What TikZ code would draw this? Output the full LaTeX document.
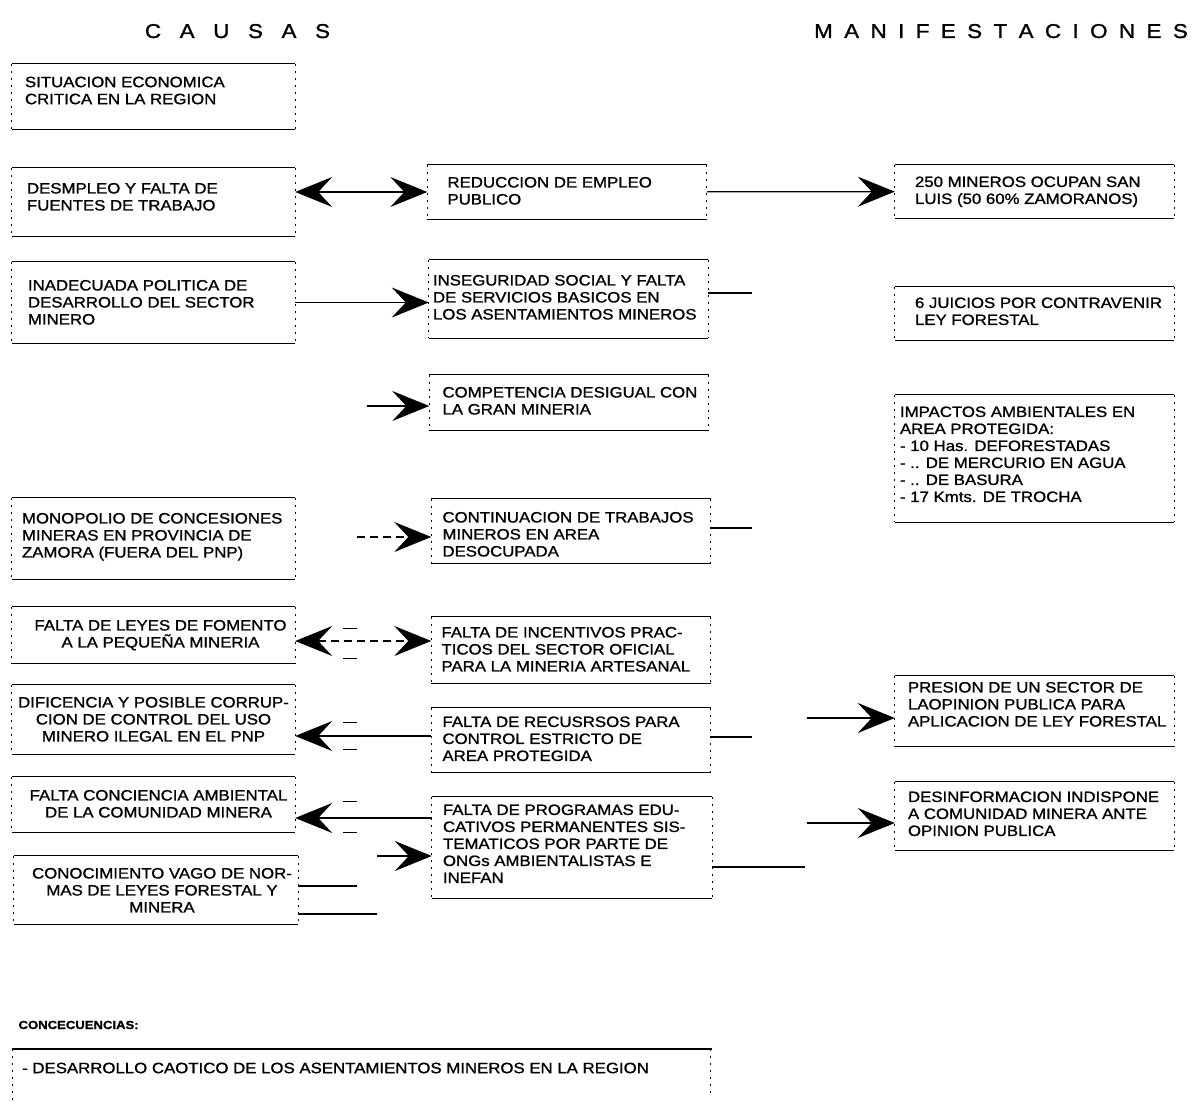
\documentclass[tikz,border=0pt]{standalone}
\usepackage{fontspec}
\setmainfont{Liberation Sans}[FakeStretch=1.12, FakeBold=1.2]
\usetikzlibrary{positioning,arrows.meta}
\tikzset{
  borde/.style={line width=1.2pt},
  lado/.style={line width=0.8pt, dash pattern=on 2pt off 5pt},
  caja/.style={inner sep=0pt, append after command={
      (\tikzlastnode.north west) edge[borde] (\tikzlastnode.north east)
      (\tikzlastnode.south west) edge[borde] (\tikzlastnode.south east)
      (\tikzlastnode.north west) edge[lado] (\tikzlastnode.south west)
      (\tikzlastnode.north east) edge[lado] (\tikzlastnode.south east)}},
  izq/.style={caja, minimum width=283pt},
  cen/.style={caja, minimum width=279pt},
  der/.style={caja, minimum width=279pt},
  texto/.style={inner sep=0pt, align=left, font=\fontsize{15}{17}\selectfont},
  centrado/.style={texto, align=center},
  titulo/.style={anchor=base, font=\fontsize{20}{22}\selectfont},
  punta/.tip={Stealth[length=37pt, width=30pt, inset=14pt]},
  linea/.style={line width=1.2pt},
  flecha/.style={linea, -punta},
  ambas/.style={linea, punta-punta},
  trazos/.style={dash pattern=on 8pt off 5pt},
  marca/.style={line width=1pt}
}
\ExplSyntaxOn
\NewDocumentCommand \espaciar { m m } { \tl_map_inline:nn {#2} { ##1 \hspace{#1} } \unskip }
\ExplSyntaxOff

\begin{document}
\begin{tikzpicture}[x=1pt, y=-1pt]
  \useasboundingbox (0,0) rectangle (1195,1102);

  % titulos
  \node[titulo] (causas) at (237.5,38) {\espaciar{18.6pt}{CAUSAS}};
  \node[titulo] (manif) at (1001,38) {\espaciar{11.4pt}{MANIFESTACIONES}};

  % causas
  \node[izq, minimum height=65pt] (sitEco) at (153.5,96.5) {};
  \node[texto, below right=12.7pt and 13pt of sitEco.north west] (sitEcoT) {SITUACION ECONOMICA\\CRITICA EN LA REGION};
  \node[izq, minimum height=68pt] (desempleo) at (153.5,202) {};
  \node[texto, below right=15pt and 15pt of desempleo.north west] (desempleoT) {DESMPLEO Y FALTA  DE\\FUENTES DE TRABAJO};
  \node[izq, minimum height=81pt] (politica) at (153.5,302.5) {};
  \node[texto, below right=18pt and 16pt of politica.north west] (politicaT) {INADECUADA POLITICA  DE\\DESARROLLO DEL SECTOR\\MINERO};
  \node[izq, minimum height=81pt] (monopolio) at (153.5,538.5) {};
  \node[texto, below right=15pt and 10pt of monopolio.north west] (monopolioT) {MONOPOLIO DE CONCESIONES\\MINERAS EN PROVINCIA DE\\ZAMORA (FUERA DEL PNP)};
  \node[izq, minimum height=56pt] (leyes) at (153.5,635) {};
  \node[centrado, below=13pt of leyes.north, xshift=7pt] (leyesT) {FALTA DE LEYES DE FOMENTO\\A LA PEQUEÑA MINERIA};
  \node[izq, minimum height=69pt] (corrupcion) at (153.5,719.5) {};
  \node[centrado, below=12pt of corrupcion.north] (corrupcionT) {DIFICENCIA Y POSIBLE CORRUP-\\CION DE CONTROL DEL USO\\MINERO ILEGAL EN EL PNP};
  \node[izq, minimum height=55pt] (conciencia) at (153.5,804.5) {};
  \node[centrado, below=13pt of conciencia.north, xshift=5pt] (concienciaT) {FALTA CONCIENCIA AMBIENTAL\\DE LA COMUNIDAD MINERA};
  \node[izq, minimum width=284pt, minimum height=68pt] (conocimiento) at (156,890) {};
  \node[centrado, below=12pt of conocimiento.north, xshift=6pt] (conocimientoT) {CONOCIMIENTO VAGO DE NOR-\\MAS DE LEYES FORESTAL Y\\MINERA};

  % columna central
  \node[cen, minimum height=54pt] (empleo) at (567,192) {};
  \node[texto, below right=12pt and 20pt of empleo.north west] (empleoT) {REDUCCION DE EMPLEO\\PUBLICO};
  \node[cen, minimum height=78pt] (inseguridad) at (568.5,299) {};
  \node[texto, below right=15pt and 4pt of inseguridad.north west] (inseguridadT) {INSEGURIDAD SOCIAL Y FALTA\\DE SERVICIOS BASICOS EN\\LOS ASENTAMIENTOS MINEROS};
  \node[cen, minimum height=55pt] (competencia) at (569,402.5) {};
  \node[texto, below right=12pt and 13pt of competencia.north west] (competenciaT) {COMPETENCIA DESIGUAL CON\\LA GRAN MINERIA};
  \node[cen, minimum height=64pt] (continuacion) at (571,531) {};
  \node[texto, below right=13pt and 11pt of continuacion.north west] (continuacionT) {CONTINUACION DE TRABAJOS\\MINEROS EN AREA\\DESOCUPADA};
  \node[cen, minimum height=66pt] (incentivos) at (571,650) {};
  \node[texto, below right=10pt and 10pt of incentivos.north west] (incentivosT) {FALTA DE INCENTIVOS PRAC-\\TICOS DEL SECTOR OFICIAL\\PARA LA MINERIA ARTESANAL};
  \node[cen, minimum height=64pt] (recursos) at (571,740) {};
  \node[texto, below right=8.5pt and 11pt of recursos.north west] (recursosT) {FALTA DE RECUSRSOS PARA\\CONTROL ESTRICTO DE\\AREA PROTEGIDA};
  \node[cen, minimum width=280pt, minimum height=101pt] (programas) at (572,847.5) {};
  \node[texto, below right=7.5pt and 11pt of programas.north west] (programasT) {FALTA DE PROGRAMAS EDU-\\CATIVOS PERMANENTES SIS-\\TEMATICOS POR PARTE DE\\ONGs AMBIENTALISTAS E\\INEFAN};

  % manifestaciones
  \node[der, minimum height=53pt] (mineros) at (1034.5,191.5) {};
  \node[texto, below right=11.5pt and 20pt of mineros.north west] (minerosT) {250 MINEROS OCUPAN SAN\\LUIS (50 60\% ZAMORANOS)};
  \node[der, minimum height=53pt] (juicios) at (1034.5,313.5) {};
  \node[texto, below right=10.5pt and 20pt of juicios.north west] (juiciosT) {6 JUICIOS POR CONTRAVENIR\\LEY FORESTAL};
  \node[der, minimum height=127pt] (impactos) at (1034.5,458.5) {};
  \node[texto, below right=11.5pt and 5pt of impactos.north west] (impactosT) {IMPACTOS AMBIENTALES EN\\AREA PROTEGIDA:\\- 10 Has. DEFORESTADAS\\- .. DE MERCURIO EN AGUA\\- .. DE BASURA\\- 17 Kmts. DE TROCHA};
  \node[der, minimum height=70pt] (presion) at (1034.5,711) {};
  \node[texto, below right=6pt and 13pt of presion.north west] (presionT) {PRESION DE UN SECTOR DE\\LAOPINION PUBLICA PARA\\APLICACION DE LEY FORESTAL};
  \node[der, minimum height=68pt] (desinfo) at (1034.5,816) {};
  \node[texto, below right=9.5pt and 13pt of desinfo.north west] (desinfoT) {DESINFORMACION INDISPONE\\A COMUNIDAD MINERA ANTE\\OPINION PUBLICA};

  % extremos libres
  \coordinate (insFin) at (752,293);
  \coordinate (compIni) at (367,406);
  \coordinate (contIni) at (357,537);
  \coordinate (contFin) at (752,528);
  \coordinate (recFin) at (752,737);
  \coordinate (presIni) at (807,718);
  \coordinate (progIni) at (377,856);
  \coordinate (conoFinA) at (357,886);
  \coordinate (conoFinB) at (377,914);
  \coordinate (progFin) at (805,867);
  \coordinate (desIni) at (807,823);

  \path[ambas]
    (desempleo.east |- empleo.west) edge (empleo.west);
  \draw[flecha] (empleo) -- (mineros);
  \draw[flecha] (politica.east) -- (politica.east -| inseguridad.west);
  \draw[linea] (insFin -| inseguridad.east) -- (insFin);
  \draw[flecha] (compIni) -- (compIni -| competencia.west);
  \draw[flecha, trazos] (contIni) -- (contIni -| continuacion.west);
  \draw[linea] (contFin -| continuacion.east) -- (contFin);
  \draw[ambas, trazos] ([yshift=-6pt]leyes.east) -- ([yshift=-6pt]leyes.east -| incentivos.west);
  \draw[flecha] ([yshift=4pt]recursos.west) -- ([yshift=4pt]recursos.west -| corrupcion.east);
  \draw[linea] (recFin -| recursos.east) -- (recFin);
  \draw[flecha] (presIni) -- (presIni -| presion.west);
  \draw[flecha] ([yshift=-13.5pt]conciencia.east -| programas.west) -- ([yshift=-13.5pt]conciencia.east);
  \draw[flecha] (progIni) -- (progIni -| programas.west);
  \draw[linea] (conoFinA -| conocimiento.east) -- (conoFinA);
  \draw[linea] (conoFinB -| conocimiento.east) -- (conoFinB);
  \draw[linea] (progFin -| programas.east) -- (progFin);
  \draw[flecha] (desIni) -- (desIni -| desinfo.west);
  \foreach \y in {628,658,722,749,801,832}
    \draw[marca] (343,\y) -- (357,\y);

  % concecuencias
  \node[anchor=base west, font=\fontsize{11.7}{13}\selectfont\bfseries] (conseTit) at (15,1029) {CONCECUENCIAS:};
  \draw[borde] (12,1049) -- (712,1049);
  \draw[lado] (12,1049) -- (12,1102);
  \draw[lado] (710,1049) -- (710,1097);
  \node[texto, anchor=north west] (conseT) at (22,1062.5) {- DESARROLLO CAOTICO DE LOS ASENTAMIENTOS MINEROS EN LA REGION};
\end{tikzpicture}
\end{document}
